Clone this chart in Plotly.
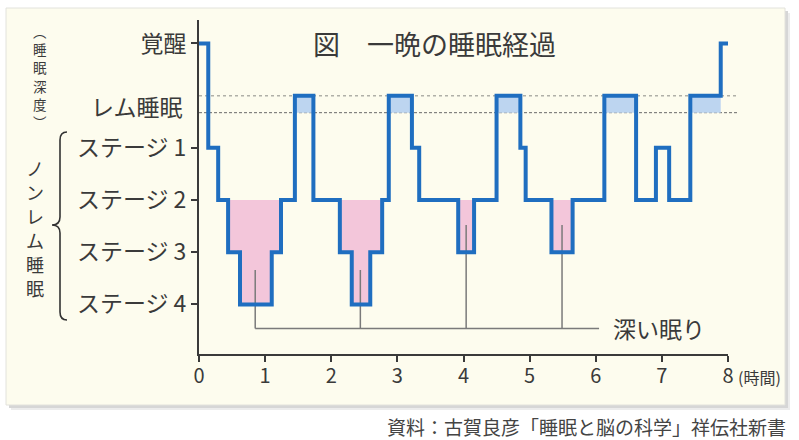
import plotly.graph_objects as go

# ---- data ----
stage_names = ["覚醒", "レム睡眠", "ステージ 1", "ステージ 2", "ステージ 3", "ステージ 4"]
# start time (hours) of each segment
seg_start = [0.00, 0.14, 0.29, 0.44, 0.62, 1.10, 1.24, 1.45, 1.73, 2.13, 2.31, 2.59,
             2.77, 2.87, 3.22, 3.33, 3.92, 4.16, 4.50, 4.86, 4.94, 5.33, 5.65, 6.13,
             6.61, 6.91, 7.11, 7.43, 7.89]
seg_end_time = 8.02
# depth: 0 wake, 1 REM, 2..5 stage 1..4
seg_stage = [0, 2, 3, 4, 5, 4, 3, 1, 3, 4, 5, 4,
             3, 1, 2, 3, 4, 3, 1, 2, 3, 4, 3, 1,
             3, 2, 3, 1, 0]
deep_mark_x = [0.85, 2.44, 4.04, 5.49]
deep_mark_top = [4.34, 4.34, 3.48, 3.48]
deep_bar_y = 5.46
deep_bar_end = 6.05
x_ticks = [0, 1, 2, 3, 4, 5, 6, 7, 8]
y_tick_vals = [0, 2, 3, 4, 5]
y_tick_text = [stage_names[i] for i in y_tick_vals]
rem_level = 1
rem_band_low = 1.326
axis_title_chars = ["︵", "睡", "眠", "深", "度", "︶"]
nonrem_chars = list("ノンレム睡眠")

# ---- geometry helpers ----
W, Hf = 799, 440
L, R_px, T, B = 199, 728, 20, 354
YR = [5.95, -0.45]
def px(xp): return (xp - L) / (R_px - L)
def py(yp): return (B - yp) / (B - T)
def dy(d): return (YR[0] - d) / (YR[0] - YR[1])

TXT = "#3a3a3a"
FONT = "Noto Sans CJK JP"
BLUE = "#1f6ec0"

xs = seg_start + [seg_end_time]
ys = seg_stage + [seg_stage[-1]]

fig = go.Figure()
# pink deep-sleep fill
fig.add_trace(go.Scatter(x=xs, y=[3] * len(xs), mode="lines", line=dict(width=0, shape="hv"),
                         hoverinfo="skip", showlegend=False))
fig.add_trace(go.Scatter(x=xs, y=[max(v, 3) for v in ys], mode="lines",
                         line=dict(width=0, shape="hv"), fill="tonexty",
                         fillcolor="#f3c6da", hoverinfo="skip", showlegend=False))
# blue REM fill
fig.add_trace(go.Scatter(x=xs, y=[rem_band_low] * len(xs), mode="lines",
                         line=dict(width=0, shape="hv"), hoverinfo="skip", showlegend=False))
fig.add_trace(go.Scatter(x=xs, y=[rem_level if v == rem_level else rem_band_low for v in ys],
                         mode="lines", line=dict(width=0, shape="hv"), fill="tonexty",
                         fillcolor="#bdd5f0", hoverinfo="skip", showlegend=False))
# deep sleep markers
mx, my = [], []
for x0, t0 in zip(deep_mark_x, deep_mark_top):
    mx += [x0, x0, None]
    my += [t0, deep_bar_y, None]
mx += [deep_mark_x[0], deep_bar_end]
my += [deep_bar_y, deep_bar_y]
fig.add_trace(go.Scatter(x=mx, y=my, mode="lines", line=dict(color="#7a7a7a", width=1.5),
                         hoverinfo="skip", showlegend=False))
# hypnogram
fig.add_trace(go.Scatter(x=xs, y=ys, mode="lines", line=dict(color=BLUE, width=4, shape="hv"),
                         showlegend=False))

shapes = [
    dict(type="rect", xref="paper", yref="paper", x0=px(11), x1=px(790), y0=py(410), y1=py(13),
         fillcolor="#ececec", line=dict(width=0), layer="below"),
    dict(type="rect", xref="paper", yref="paper", x0=px(9), x1=px(788), y0=py(408), y1=py(11),
         fillcolor="#d6d6d6", line=dict(width=0), layer="below"),
    dict(type="rect", xref="paper", yref="paper", x0=px(6), x1=px(785), y0=py(405), y1=py(8),
         fillcolor="#fdfcee", line=dict(color="#e2e2dc", width=1), layer="below"),
    dict(type="line", xref="paper", yref="paper", x0=0, x1=px(737), y0=dy(rem_level), y1=dy(rem_level),
         line=dict(color="#b0b0a8", width=1.5, dash="dot"), layer="below"),
    dict(type="line", xref="paper", yref="paper", x0=0, x1=px(737), y0=dy(rem_band_low), y1=dy(rem_band_low),
         line=dict(color="#6a6a6a", width=1, dash="3px,2px"), layer="below"),
]
# brace
bx, bt, bm, bb = 60, 132, 225, 320
brace = (f"M {px(67)},{py(bt)} Q {px(bx)},{py(bt)} {px(bx)},{py(bt+8)} "
         f"L {px(bx)},{py(bm-8)} Q {px(bx)},{py(bm)} {px(52)},{py(bm)} "
         f"Q {px(bx)},{py(bm)} {px(bx)},{py(bm+8)} "
         f"L {px(bx)},{py(bb-8)} Q {px(bx)},{py(bb)} {px(67)},{py(bb)}")
shapes.append(dict(type="path", xref="paper", yref="paper", path=brace,
                   line=dict(color="#333333", width=1.6)))

ann = []
def add_text(t, x, y, size, xa="center", ya="middle", color=TXT):
    ann.append(dict(text=t, x=px(x), y=py(y), xref="paper", yref="paper", xanchor=xa, yanchor=ya,
                    showarrow=False, font=dict(family=FONT, size=size, color=color)))

def vertical(chars, glyph_size):
    return "<br>".join(f'<span style="font-size:{glyph_size}px">{c}</span>' for c in chars)

add_text("図　一晩の睡眠経過", 311, 43, 27, xa="left")
add_text("レム睡眠", 185, 106, 23, xa="right")
add_text("深い眠り", 611, 328, 23, xa="left")
add_text("(時間)", 736, 377, 16, xa="left")
add_text("資料：古賀良彦「睡眠と脳の科学」祥伝社新書", 788, 427, 19, xa="right", color="#444444")
# vertical texts: base size sets line pitch (1.3em), span sets glyph size
add_text(vertical(axis_title_chars, 13.5), 40, 76, 14)
add_text(vertical(nonrem_chars, 18), 35, 228, 18.5)

fig.update_layout(
    width=W, height=Hf, margin=dict(l=L, r=W - R_px, t=T, b=Hf - B),
    paper_bgcolor="white", plot_bgcolor="rgba(0,0,0,0)",
    shapes=shapes, annotations=ann, showlegend=False,
    font=dict(family=FONT, color=TXT),
    xaxis=dict(range=[0, 8], tickvals=x_ticks, ticks="outside", ticklen=6, tickwidth=2,
               tickcolor="#3a3a3a", showline=True, linecolor="#3a3a3a", linewidth=2,
               showgrid=False, zeroline=False, tickfont=dict(size=20, color=TXT, family=FONT),
               ticklabelstandoff=-3, fixedrange=True),
    yaxis=dict(range=YR, tickvals=y_tick_vals, ticktext=y_tick_text, ticks="outside", ticklen=6,
               tickwidth=2, tickcolor="#3a3a3a", showline=True, linecolor="#3a3a3a", linewidth=2,
               showgrid=False, zeroline=False, tickfont=dict(size=23, color=TXT, family=FONT),
               fixedrange=True),
)
fig.write_html("out.html")
